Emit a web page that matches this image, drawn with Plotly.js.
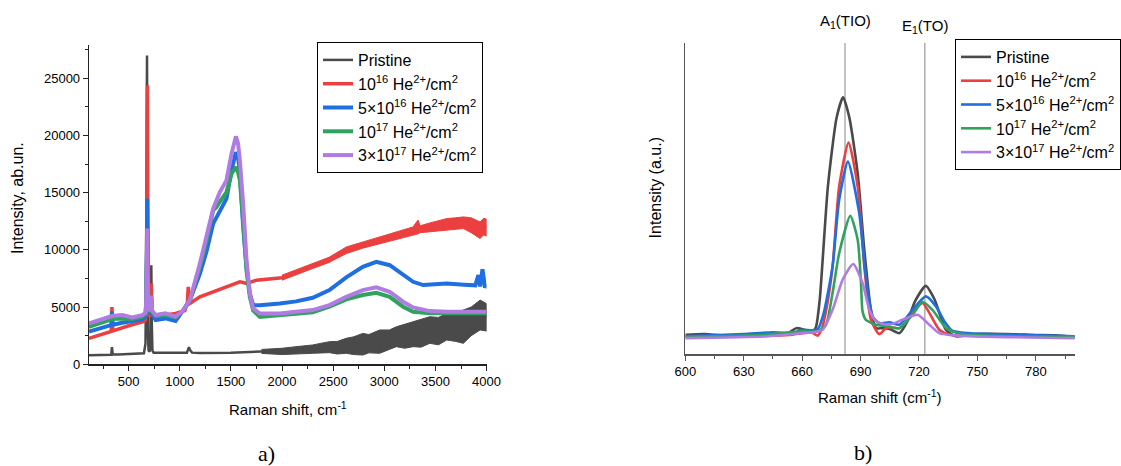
<!DOCTYPE html>
<html>
<head>
<meta charset="utf-8">
<script src="https://cdn.plot.ly/plotly-3.0.1.min.js"></script>
<style>
html,body{margin:0;padding:0;background:#fff;}
#chart{width:1121px;height:466px;}
</style>
</head>
<body>
<div id="chart"></div>
<script>
// ---------- Labels ----------
const seriesNames = [
  "Pristine",
  "10<sup>16</sup> He<sup>2+</sup>/cm<sup>2</sup>",
  "5×10<sup>16</sup> He<sup>2+</sup>/cm<sup>2</sup>",
  "10<sup>17</sup> He<sup>2+</sup>/cm<sup>2</sup>",
  "3×10<sup>17</sup> He<sup>2+</sup>/cm<sup>2</sup>"
];
const seriesColors = ["#4a4a4a", "#ec3f3f", "#1f6fe0", "#2fa35e", "#b07be2"];

// ---------- Panel a) : full Raman spectra (cm-1, ab.un.) ----------
const pristineX = [112,200,300,330,337,345,400,500,600,650,665,672,677,680,683,688,695,705,712,717,722,727,733,745,800,900,1000,1070,1090,1100,1120,1200,1500,1800];
const pristineY = [800,820,830,830,1500,850,850,870,900,960,1800,8000,22000,26980,20000,3000,1200,1100,1500,6000,8660,3500,1200,1000,1000,960,950,1000,1500,1250,1020,980,1020,1120];
const pristineNoiseX    = [1800,2000,2137,2300,2464,2540,2628,2700,2790,2850,2955,3050,3118,3200,3282,3360,3445,3530,3610,3700,3773,3850,3937,4000];
const pristineNoiseMid  = [1120,1120,1220,1320,1500,1450,1610,1620,1750,1800,1980,2150,2410,2450,2630,2700,3000,2900,3280,3250,3280,3750,4300,4100];
const pristineNoiseLow  = [950,850,900,960,1020,900,960,850,810,1000,960,1300,1540,1400,1540,1500,1830,1700,2120,2000,1830,2500,3000,2900];
const pristineNoiseHigh = [1300,1400,1540,1690,1980,2000,2270,2400,2700,2600,3000,3000,3280,3500,3720,3900,4160,4100,4450,4500,4740,5000,5610,5300];

const redX = [112,300,330,337,345,500,650,665,672,677,680,684,688,692,700,712,718,722,730,764,861,959,1050,1075,1083,1092,1099,1197,1360,1490,1550,1588,1620,1653,1750,1850,2000];
const redY = [2270,2800,2880,5000,2920,3370,3750,3900,5000,12000,20000,24360,12000,5000,4200,4300,6000,7060,4300,4200,4300,4450,4700,5400,6770,6000,5320,5900,6480,6920,7100,7210,7150,7060,7350,7450,7570];
const redNoiseX    = [2000,2150,2300,2460,2630,2790,2955,3120,3280,3330,3350,3445,3610,3700,3773,3850,3937,3970,4000];
const redNoiseMid  = [7570,8070,8580,9120,9970,10420,10840,11220,11640,12000,11800,11970,12220,12300,12370,12150,11710,12020,11950];
const redNoiseLow  = [7350,7850,8370,8900,9680,10150,10550,10900,11280,11400,11500,11600,11720,11800,11860,11500,10990,11300,11200];
const redNoiseHigh = [7790,8300,8800,9350,10260,10700,11130,11550,12000,12600,12100,12350,12730,12800,12880,12800,12440,12750,12700];

const blueX = [112,200,300,330,337,345,438,535,633,665,672,677,680,683,686,690,700,712,718,722,730,764,861,959,1034,1099,1197,1260,1327,1392,1457,1506,1530,1549,1570,1588,1620,1653,1685,1718,1783,1900,1979,2137,2300,2464,2628,2790,2922,3053,3184,3282,3380,3500,3610,3780,3890,3920,3937,3960,3985,4000];
const blueY = [2850,3050,3350,3430,4600,3450,3630,3800,3920,4150,5000,9000,13000,14480,10000,5500,4600,4400,5000,5600,4400,3870,4010,3780,4730,5600,7930,9800,12290,13300,14470,16940,18000,18540,18000,16940,12000,8500,6190,5170,5170,5250,5320,5500,5810,6480,7590,8520,8950,8660,7790,7210,6920,6950,7060,6950,6900,7800,6800,8300,6700,7000];

const greenX = [112,200,340,438,535,633,665,672,677,680,683,686,690,700,712,718,722,730,764,861,959,1034,1099,1197,1260,1327,1360,1392,1457,1506,1530,1549,1570,1588,1620,1653,1685,1718,1783,1979,2137,2300,2464,2628,2790,2922,3053,3184,3282,3445,3610,3800,4000];
const greenY = [3280,3550,3950,4010,3950,4160,4400,5300,8500,10500,11500,8000,5300,4700,4600,5300,5800,4600,4200,4300,4100,4700,5600,8510,10700,13450,13740,14200,15050,16650,17000,17230,16800,16070,12500,8200,5900,4700,4150,4300,4400,4550,5030,5670,6050,6250,5900,5030,4590,4450,4450,4450,4450];

const purpleX = [112,200,340,438,535,633,665,672,677,680,683,686,690,700,712,718,722,730,764,861,959,1034,1099,1197,1260,1327,1392,1457,1506,1530,1549,1570,1588,1620,1653,1685,1718,1783,1979,2137,2300,2464,2628,2790,2922,3053,3184,3282,3445,3610,3800,4000];
const purpleY = [3580,3850,4220,4300,4100,4300,4500,5500,9000,11000,11860,8500,5500,4800,4700,5500,6000,4700,4300,4450,4160,4730,5600,8800,11000,13600,15050,16070,18390,19300,19910,19300,17800,14030,9090,6190,4880,4440,4440,4600,4740,5170,5900,6480,6720,6340,5470,4970,4650,4600,4590,4600];

// ---------- Panel b) : zoom 600-800 cm-1 (a.u.) ----------
const bPristineX = [600,610,620,635,648,653,657,661,665,667,669,673.2,677.7,681,684.2,688.5,691.9,695.3,697.9,701.3,705,709.9,714,718,723.5,728,733.8,738.9,750,765,780,790,800];
const bPristineY = [6.2,6.4,5.9,6.2,6.4,6.8,8.3,7.8,7.0,8.5,17.4,53.8,76,82.5,76,58,33.5,14.2,8.3,8.3,8.0,6.7,10.5,17,21.9,17.5,7.8,5.7,6.4,6.4,6.1,6.0,5.5];
const bRedX = [600,630,645,655,660,665,668,670,672,675.6,679,683.8,688.5,691.9,695.3,699.6,703,706,709.9,713,716.7,721.8,725.3,730.4,735.5,745,800];
const bRedY = [5.5,5.7,5.9,6.2,6.7,6.9,5.9,8.0,13,28.1,53.8,67.9,53.8,28.1,11,6.4,8.3,8.6,8.3,10,13.2,16.4,13.2,7.8,6.2,5.9,5.5];
const bBlueX = [600,630,645,655,660,665,668,671,675.6,679,683.5,689.3,692.7,696.2,699.6,704.7,709.9,716.7,723.5,728.7,733,737,745,800];
const bBlueY = [5.7,6.4,7.0,6.7,7.8,7.6,8.0,13,28.1,49.5,61.8,45.2,24.9,12.1,9.9,10.2,9.4,14.2,18.5,15.3,10.5,7.5,6.7,5.7];
const bGreenX = [600,640,660,668,672.2,675.6,679,684.7,688.5,690.2,691,692.7,697.9,703,709.9,716.7,721.8,726.9,734,742,800];
const bGreenY = [5.5,6.2,7.3,7.3,9.4,19.6,32.4,44.4,36.7,22.8,13.7,11,9.4,9.0,8.3,12.6,16.7,14.2,8.3,6.4,5.5];
const bPurpleX = [600,640,660,666,670.5,675.6,680.8,686.2,691,694.5,697.9,704.7,711.5,719.3,725.3,730.4,740,800];
const bPurpleY = [5.1,5.6,6.7,7.0,7.8,14.2,23.9,28.9,22.8,14.2,10.5,9.4,11,12.6,9.4,6.7,5.9,5.1];

const modeX = [682, 723];
const modeLabels = ["A<sub>1</sub>(TIO)", "E<sub>1</sub>(TO)"];

// ---------- Traces ----------
const FONT = "Liberation Sans, Arial, sans-serif";
function band(x, lo, hi, color, xa, ya) {
  return {
    x: x.concat(x.slice().reverse()),
    y: hi.concat(lo.slice().reverse()),
    xaxis: xa, yaxis: ya, mode: "lines", fill: "toself",
    fillcolor: color, line: {color: color, width: 1},
    showlegend: false, hoverinfo: "skip"
  };
}
const traces = [];
// panel a
traces.push(band(pristineNoiseX, pristineNoiseLow, pristineNoiseHigh, seriesColors[0], "x", "y"));
traces.push({x: pristineX.concat(pristineNoiseX), y: pristineY.concat(pristineNoiseMid), xaxis:"x", yaxis:"y", mode:"lines",
  line:{color:seriesColors[0], width:2.5}, name:seriesNames[0], legend:"legend"});
traces.push(band(redNoiseX, redNoiseLow, redNoiseHigh, seriesColors[1], "x", "y"));
traces.push({x: redX.concat(redNoiseX), y: redY.concat(redNoiseMid), xaxis:"x", yaxis:"y", mode:"lines",
  line:{color:seriesColors[1], width:3.5}, name:seriesNames[1], legend:"legend"});
traces.push({x: blueX, y: blueY, xaxis:"x", yaxis:"y", mode:"lines",
  line:{color:seriesColors[2], width:4}, name:seriesNames[2], legend:"legend"});
traces.push({x: greenX, y: greenY, xaxis:"x", yaxis:"y", mode:"lines",
  line:{color:seriesColors[3], width:4}, name:seriesNames[3], legend:"legend"});
traces.push({x: purpleX, y: purpleY, xaxis:"x", yaxis:"y", mode:"lines",
  line:{color:seriesColors[4], width:4}, name:seriesNames[4], legend:"legend"});
// panel b
const bX = [bPristineX, bRedX, bBlueX, bGreenX, bPurpleX];
const bY = [bPristineY, bRedY, bBlueY, bGreenY, bPurpleY];
for (let i = 0; i < 5; i++) {
  traces.push({x: bX[i], y: bY[i], xaxis:"x2", yaxis:"y2", mode:"lines",
    line:{color:seriesColors[i], width:2.6, shape:"spline", smoothing:0.6},
    name:seriesNames[i], legend:"legend2"});
}

const W = 1121, H = 466;
const px = v => v / W, py = v => 1 - v / H;

const layout = {
  width: W, height: H,
  margin: {l:0, r:0, t:0, b:0},
  paper_bgcolor: "#fff", plot_bgcolor: "rgba(0,0,0,0)",
  font: {family: FONT, size: 13, color: "#000"},
  showlegend: true,
  xaxis: {
    domain: [px(89), px(487)], anchor: "y", range: [112, 4000],
    tickmode: "linear", tick0: 0, dtick: 500, tickformat: "d",
    ticks: "outside", ticklen: 5, tickwidth: 1, tickcolor: "#222",
    minor: {dtick: 250, tick0: 0, ticks: "outside", ticklen: 3, tickcolor: "#222"},
    showline: true, linecolor: "#222", linewidth: 1.2, showgrid: false, zeroline: false,
    tickfont: {size: 13, family: FONT}
  },
  yaxis: {
    domain: [py(364.3), py(45)], anchor: "x", range: [0, 27900],
    tickmode: "linear", tick0: 0, dtick: 5000, tickformat: "d",
    ticks: "outside", ticklen: 5, tickwidth: 1, tickcolor: "#222",
    minor: {dtick: 2500, tick0: 0, ticks: "outside", ticklen: 3, tickcolor: "#222"},
    showline: true, linecolor: "#222", linewidth: 1.2, showgrid: false, zeroline: false,
    tickfont: {size: 13, family: FONT}
  },
  xaxis2: {
    domain: [px(686), px(1075.7)], anchor: "y2", range: [600, 800],
    tickmode: "linear", tick0: 600, dtick: 30,
    ticks: "outside", ticklen: 5, tickwidth: 1, tickcolor: "#555",
    minor: {dtick: 15, tick0: 600, ticks: "outside", ticklen: 3, tickcolor: "#555"},
    showline: true, linecolor: "#555", linewidth: 1.5, showgrid: false, zeroline: false,
    tickfont: {size: 13, family: FONT}
  },
  yaxis2: {
    domain: [py(354), py(42.7)], anchor: "x2", range: [0, 100],
    showticklabels: false, ticks: "",
    showline: true, linecolor: "#555", linewidth: 1.5, showgrid: false, zeroline: false
  },
  legend: {
    x: px(317), y: py(42), xanchor: "left", yanchor: "top",
    bordercolor: "#000", borderwidth: 1, bgcolor: "#fff",
    font: {size: 16, family: FONT}, tracegroupgap: 0, itemwidth: 30
  },
  legend2: {
    x: px(956), y: py(39), xanchor: "left", yanchor: "top",
    bordercolor: "#000", borderwidth: 1, bgcolor: "#fff",
    font: {size: 16, family: FONT}, tracegroupgap: 0, itemwidth: 30
  },
  shapes: modeX.map(v => ({
    type: "line", xref: "x2", yref: "y2", x0: v, x1: v, y0: 0, y1: 100,
    line: {color: "#9a9a9a", width: 1.2}, layer: "below"
  })),
  annotations: [
    {text: "Intensity, ab.un.", xref:"paper", yref:"paper", x: px(18), y: py(198), textangle: -90,
     showarrow:false, font:{size:16, family:FONT}, xanchor:"center", yanchor:"middle"},
    {text: "Raman shift, cm<sup>-1</sup>", xref:"paper", yref:"paper", x: px(288), y: py(408),
     showarrow:false, font:{size:15, family:FONT}, xanchor:"center", yanchor:"middle"},
    {text: "Intensity (a.u.)", xref:"paper", yref:"paper", x: px(657), y: py(188), textangle: -90,
     showarrow:false, font:{size:16, family:FONT}, xanchor:"center", yanchor:"middle"},
    {text: "Raman shift (cm<sup>-1</sup>)", xref:"paper", yref:"paper", x: px(881), y: py(396),
     showarrow:false, font:{size:15, family:FONT}, xanchor:"center", yanchor:"middle"},
    {text: "a)", xref:"paper", yref:"paper", x: px(267), y: py(453),
     showarrow:false, font:{size:22, family:"Liberation Serif, Times New Roman, serif"}, xanchor:"center", yanchor:"middle"},
    {text: "b)", xref:"paper", yref:"paper", x: px(864), y: py(452),
     showarrow:false, font:{size:22, family:"Liberation Serif, Times New Roman, serif"}, xanchor:"center", yanchor:"middle"},
    {text: modeLabels[0], xref:"x2", yref:"paper", x: modeX[0], y: py(21),
     showarrow:false, font:{size:15, family:FONT}, xanchor:"center", yanchor:"middle"},
    {text: modeLabels[1], xref:"x2", yref:"paper", x: modeX[1], y: py(27),
     showarrow:false, font:{size:15, family:FONT}, xanchor:"center", yanchor:"middle"}
  ]
};

Plotly.newPlot("chart", traces, layout, {displayModeBar: false, staticPlot: true});
</script>
</body>
</html>
